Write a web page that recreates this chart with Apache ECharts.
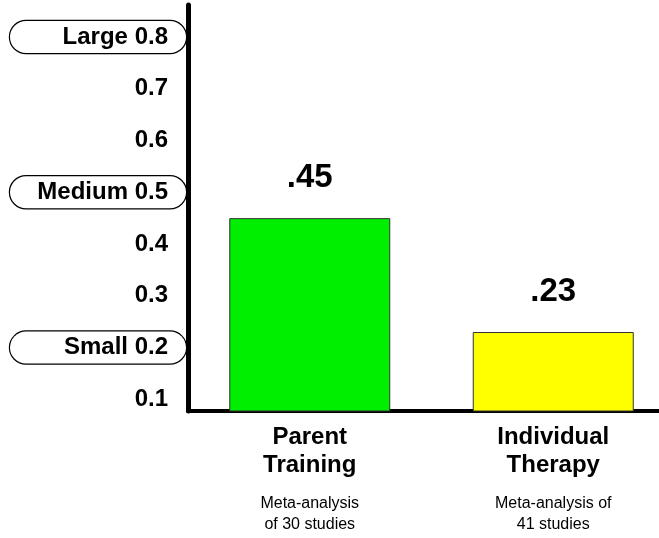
<!DOCTYPE html>
<html>
<head>
<meta charset="utf-8">
<script src="https://cdn.jsdelivr.net/npm/echarts@6/dist/echarts.min.js"></script>
<style>
  html, body { margin: 0; padding: 0; background: #fff; }
  #chart { width: 659px; height: 538px; }
</style>
</head>
<body>
<div id="chart"></div>
<script>
// Effect sizes of two treatment approaches
const categories = ['Parent\nTraining', 'Individual\nTherapy'];
const notes = ['Meta-analysis\nof 30 studies', 'Meta-analysis of\n41 studies'];
const effectSizes = [0.45, 0.23];
const barColors = ['#00EE00', '#FFFF00'];

// Value-axis labels and the benchmark names drawn in rounded boxes
const tickValues = [0.1, 0.2, 0.3, 0.4, 0.5, 0.6, 0.7, 0.8];
const benchmarkNames = { '0.2': 'Small', '0.5': 'Medium', '0.8': 'Large' };

const FONT = '"Liberation Sans", Arial, Helvetica, sans-serif';

const chart = echarts.init(document.getElementById('chart'), null, { renderer: 'canvas' });

function categoryLabel(value, idx) {
  const title = value.split('\n').map(l => '{t|' + l + '}').join('\n');
  const note = notes[idx].split('\n').map(l => '{s|' + l + '}').join('\n');
  return title + '\n{gap|}\n' + note;
}

function valueLabel(v) {
  const key = (Math.round(v * 10) / 10).toFixed(1);
  if (benchmarkNames[key]) {
    return '{pill|' + benchmarkNames[key] + ' ' + key + '}';
  }
  return '{n|' + key + '}';
}

chart.setOption({
  animation: false,
  backgroundColor: '#fff',
  grid: { left: 188, top: 5, width: 487, height: 406, containLabel: false, outerBoundsMode: 'none' },
  xAxis: {
    type: 'category',
    data: categories,
    axisLine: { show: true, lineStyle: { color: '#000', width: 4 } },
    axisTick: { show: false },
    axisLabel: {
      margin: 12,
      interval: 0,
      formatter: categoryLabel,
      rich: {
        t: { fontFamily: FONT, fontWeight: 'bold', fontSize: 24, lineHeight: 28, color: '#000', align: 'center' },
        gap: { height: 14, lineHeight: 14 },
        s: { fontFamily: FONT, fontSize: 16, lineHeight: 21, color: '#000', align: 'center' }
      }
    },
    splitLine: { show: false }
  },
  yAxis: {
    type: 'value',
    min: 0.0774,
    max: 0.8618,
    axisLine: { show: true, lineStyle: { color: '#000', width: 5 } },
    axisTick: { show: false },
    splitLine: { show: false },
    axisLabel: {
      margin: 2,
      customValues: tickValues,
      formatter: valueLabel,
      rich: {
        n: { fontFamily: FONT, fontWeight: 'bold', fontSize: 24, color: '#000', padding: [0, 18, 0, 0] },
        pill: {
          fontFamily: FONT, fontWeight: 'bold', fontSize: 24, color: '#000',
          backgroundColor: '#fff', borderColor: '#000', borderWidth: 1.2, borderRadius: 16,
          width: 140, height: 32, align: 'right', padding: [0, 18, 0, 18]
        }
      }
    }
  },
  series: [{
    type: 'bar',
    barWidth: 161,
    data: effectSizes.map((v, i) => ({ value: v, itemStyle: { color: barColors[i] } })),
    itemStyle: { borderColor: '#333', borderWidth: 1 },
    label: {
      show: true,
      position: 'top',
      distance: 24,
      fontFamily: FONT,
      fontWeight: 'bold',
      fontSize: 33,
      color: '#000',
      formatter: p => p.value.toFixed(2).replace(/^0/, '')
    }
  }]
});
</script>
</body>
</html>
